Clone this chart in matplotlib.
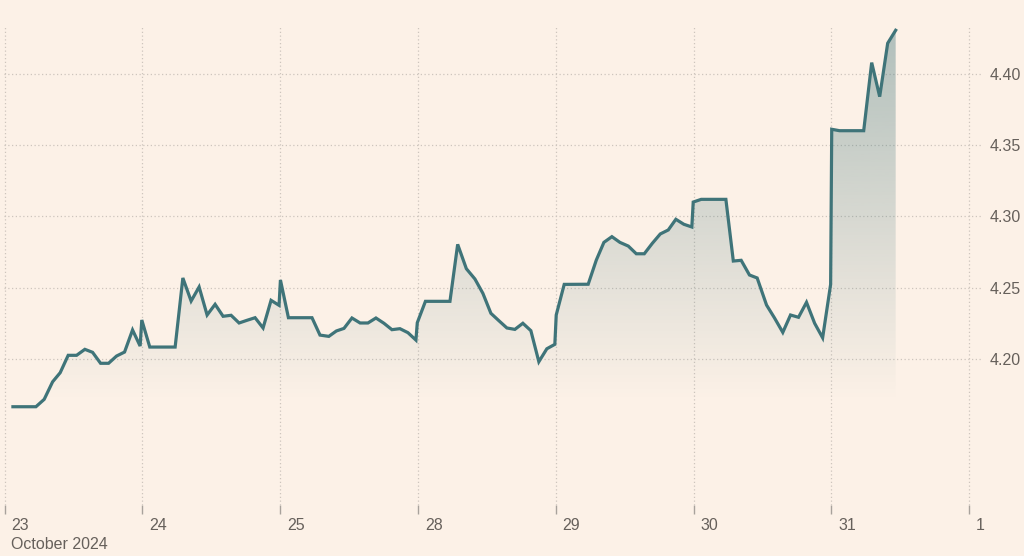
import numpy as np
import matplotlib.pyplot as plt
from matplotlib.colors import to_rgb
from matplotlib.transforms import ScaledTranslation

# trading-day slots on the x axis
day_labels = ['23', '24', '25', '28', '29', '30', '31', '1']
month_label = 'October 2024'
y_ticks = [4.20, 4.25, 4.30, 4.35, 4.40]

# position in trading-day units (0 = 23 Oct) and yield (%)
t_pos = [0.061, 0.228, 0.288, 0.349, 0.404, 0.462, 0.523, 0.583, 0.639, 0.697,
         0.755, 0.813, 0.871, 0.929, 0.984, 0.996, 1.054, 1.238, 1.294, 1.354,
         1.412, 1.470, 1.528, 1.586, 1.644, 1.702, 1.760, 1.818, 1.876, 1.934,
         1.992, 2.002, 2.060, 2.231, 2.289, 2.353, 2.408, 2.463, 2.521, 2.580,
         2.637, 2.695, 2.753, 2.811, 2.869, 2.927, 2.985, 2.995, 3.054, 3.232,
         3.288, 3.351, 3.413, 3.471, 3.529, 3.587, 3.645, 3.703, 3.761, 3.819,
         3.877, 3.935, 3.993, 4.003, 4.061, 4.235, 4.294, 4.349, 4.407, 4.465,
         4.526, 4.584, 4.642, 4.700, 4.758, 4.816, 4.871, 4.929, 4.987, 4.997,
         5.055, 5.234, 5.288, 5.345, 5.405, 5.461, 5.529, 5.587, 5.647, 5.703,
         5.761, 5.819, 5.878, 5.936, 5.994, 6.002, 6.058, 6.234, 6.292, 6.350,
         6.408, 6.466]
yields = [4.1663, 4.1663, 4.1715, 4.1838, 4.1902, 4.2024, 4.2024, 4.2066, 4.2045, 4.1968,
          4.1968, 4.2019, 4.2047, 4.2202, 4.2089, 4.2272, 4.2082, 4.2082, 4.2567, 4.2405,
          4.2504, 4.2307, 4.2382, 4.2298, 4.2305, 4.2251, 4.2270, 4.2288, 4.2216, 4.2410,
          4.2375, 4.2553, 4.2288, 4.2288, 4.2166, 4.2157, 4.2195, 4.2213, 4.2286, 4.2251,
          4.2251, 4.2286, 4.2249, 4.2204, 4.2211, 4.2183, 4.2131, 4.2253, 4.2403, 4.2403,
          4.2803, 4.2632, 4.2560, 4.2459, 4.2319, 4.2267, 4.2216, 4.2206, 4.2249, 4.2197,
          4.1979, 4.2070, 4.2101, 4.2307, 4.2522, 4.2523, 4.2693, 4.2817, 4.2857, 4.2817,
          4.2791, 4.2737, 4.2737, 4.2810, 4.2876, 4.2904, 4.2979, 4.2944, 4.2925, 4.3100,
          4.3119, 4.3119, 4.2686, 4.2691, 4.2588, 4.2567, 4.2377, 4.2286, 4.2185, 4.2307,
          4.2291, 4.2396, 4.2249, 4.2147, 4.2522, 4.3611, 4.3601, 4.3601, 4.4079, 4.3840,
          4.4215, 4.4306]

bg = '#fcf1e7'
line_col = '#3f7479'
text_col = '#66605b'
grid_col = '#cdc5bd'

plt.rcParams['font.family'] = ['Liberation Sans', 'DejaVu Sans']
plt.rcParams['font.size'] = 11.5

fig = plt.figure(figsize=(10.24, 5.56), dpi=100, facecolor=bg)
ax = fig.add_axes([0.004, 0.0917, 0.954, 0.8605])
ax.set_facecolor(bg)
ax.set_xlim(-0.003, 7.085)
ax.set_ylim(4.0973, 4.4332)

# gradient fill under the line, clipped to the area
ymin = ax.get_ylim()[0]
area = ax.fill_between(t_pos, yields, ymin, facecolor='none', edgecolor='none')
grad = np.zeros((256, 1, 4))
grad[:, :, :3] = to_rgb(line_col)
grad[:, 0, 3] = np.linspace(0.0, 0.4, 256)
img = ax.imshow(grad, extent=[t_pos[0], t_pos[-1], 4.17, 4.4332], origin='lower',
                aspect='auto', interpolation='bilinear', zorder=2)
img.set_clip_path(area.get_paths()[0], transform=ax.transData)

ax.plot(t_pos, yields, color=line_col, lw=2.3, solid_joinstyle='miter', zorder=3)

# axes styling
for s in ax.spines.values():
    s.set_visible(False)
ax.set_axisbelow(True)
ax.grid(True, color=grid_col, linestyle=(0, (1, 2)), linewidth=0.9)

ax.set_xticks(range(len(day_labels)))
labels = list(day_labels)
labels[0] = labels[0] + '\n' + month_label
ax.set_xticklabels(labels)
ax.tick_params(axis='x', direction='out', length=6.5, width=1, color='#a8a29c',
               labelcolor=text_col, pad=2.5)
offset = ScaledTranslation(5 / 72, 0, fig.dpi_scale_trans)
for lab in ax.get_xticklabels():
    lab.set_horizontalalignment('left')
    lab.set_linespacing(1.4)
    lab.set_transform(lab.get_transform() + offset)

ax.yaxis.tick_right()
ax.set_yticks(y_ticks)
ax.set_yticklabels(['%.2f' % v for v in y_ticks])
ax.tick_params(axis='y', length=0, pad=6.5, labelcolor=text_col)

fig.savefig('out.png', dpi=100, facecolor=bg)
